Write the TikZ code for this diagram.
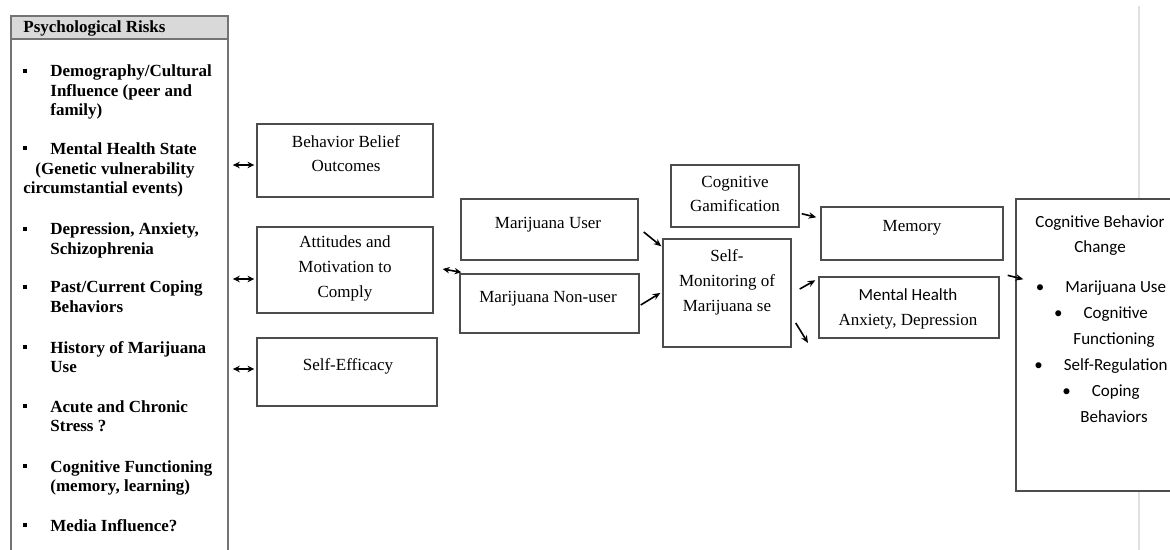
\documentclass[tikz,border=0pt]{standalone}
\usepackage{fontspec}
\setmainfont{Liberation Serif}
\newfontfamily\calibri{Carlito}
\usetikzlibrary{arrows.meta,calc,fit}

\begin{document}
\begin{tikzpicture}[x=0.5pt,y=-0.5pt,
    box/.style={draw=black!70,line width=0.7pt,inner sep=0pt},
    riskbox/.style={draw=black!55,line width=0.9pt,inner sep=0pt},
    boxtext/.style={anchor=base,align=center,inner sep=0pt,font=\fontsize{8.5}{12.4}\selectfont},
    sanstext/.style={anchor=base,align=center,inner sep=0pt,font=\calibri\fontsize{8.5}{12.9}\selectfont},
    risk/.style={anchor=base west,align=left,inner sep=0pt,font=\bfseries\fontsize{8.5}{9.75}\selectfont},
    sqbullet/.style={fill=black,inner sep=0pt,minimum size=2pt},
    arr/.style={-{Stealth[length=3.8pt,width=3.2pt]},line width=0.8pt},
    dbl/.style={{Stealth[length=3.4pt,width=3.2pt]}-{Stealth[length=3.4pt,width=3.2pt]},line width=0.8pt}]
  \useasboundingbox (0,0) rectangle (1170,550);
  \clip (0,0) rectangle (1170,550);

  % page margin
  \draw[black!12,line width=1pt] (1139,6) -- (1139,550);

  % risks (base = last line)
  \node[riskbox,fill=white,fit={(11,16) (228,580)}] (psych) {};
  \node[riskbox,fill=black!15,fit={(11,16) (228,39)}] (psych-head) {};
  \node[risk] (psych-title) at (23,33) {Psychological Risks};

  \node[sqbullet] (b1) at (25,71) {};
  \node[risk] (r1) at (50,116) {Demography/Cultural\\Influence (peer and\\family)};
  \node[sqbullet] (b2) at (25,148) {};
  \node[risk] (r2) at (23,194) {\hspace*{13.5pt}Mental Health State\\\hspace*{6pt}(Genetic vulnerability\\circumstantial events)};
  \node[sqbullet] (b3) at (25,229) {};
  \node[risk] (r3) at (50,254.5) {Depression, Anxiety,\\Schizophrenia};
  \node[sqbullet] (b4) at (25,287) {};
  \node[risk] (r4) at (50,312.5) {Past/Current Coping\\Behaviors};
  \node[sqbullet] (b5) at (25,347) {};
  \node[risk] (r5) at (50,372.5) {History of Marijuana\\Use};
  \node[sqbullet] (b6) at (25,406) {};
  \node[risk] (r6) at (50,431.5) {Acute and Chronic\\Stress ?};
  \node[sqbullet] (b7) at (25,466) {};
  \node[risk] (r7) at (50,491.5) {Cognitive Functioning\\(memory, learning)};
  \node[sqbullet] (b8) at (25,525) {};
  \node[risk] (r8) at (50,531) {Media Influence?};

  % beliefs
  \node[box,fit={(257,124) (433,197)}] (belief) {};
  \node[boxtext] (belief-t) at (346,172) {Behavior Belief\\Outcomes};
  \node[box,fit={(257,227) (433,313)}] (attitude) {};
  \node[boxtext] (attitude-t) at (345,297.5) {Attitudes and\\Motivation to\\Comply};
  \node[box,fit={(257,338) (437,406)}] (efficacy) {};
  \node[boxtext] (efficacy-t) at (348,370) {Self-Efficacy};

  % users
  \node[box,fit={(461,199) (638,260)}] (user) {};
  \node[boxtext] (user-t) at (548,229) {Marijuana User};
  \node[box,fit={(460,274) (639,333)}] (nonuser) {};
  \node[boxtext] (nonuser-t) at (548,302) {Marijuana Non-user};

  % monitoring
  \node[box,fit={(671,165) (799,227)}] (gamif) {};
  \node[boxtext] (gamif-t) at (735,212) {Cognitive\\Gamification};
  \node[box,fit={(663,239) (791,347)}] (monitor) {};
  \node[boxtext] (monitor-t) at (727,311) {Self-\\Monitoring of\\Marijuana se};

  % outcomes
  \node[box,fit={(821,207) (1003,260)}] (memory) {};
  \node[boxtext] (memory-t) at (912,232) {Memory};
  \node[box,fit={(819,277) (999,338)}] (mental) {};
  \node[boxtext] (mental-t) at (908,325) {{\calibri Mental Health}\\Anxiety, Depression};

  % change
  \node[box,fill=white,fit={(1016,199) (1184,491)}] (cbc) {};
  \node[sanstext] (cbc-t) at (1100,253) {Cognitive Behavior\\Change};
  \node[sanstext,font=\calibri\fontsize{8.5}{13}\selectfont] (cbc-list) at (1101,422)
    {\textbullet\hspace{10.5pt}Marijuana Use\\
     \textbullet\hspace{10.5pt}Cognitive\\
     \hspace*{13pt}Functioning\\
     \textbullet\hspace{10.5pt}Self-Regulation\\
     \textbullet\hspace{10.5pt}Coping\\
     \hspace*{13pt}Behaviors};

  \coordinate (loose) at (808,343);

  \draw[dbl] ($(psych.east |- belief.west)+(4,4.5)$) -- ($(belief.west)+(-2,4.5)$);
  \draw[dbl] ($(psych.east |- attitude.west)+(4,9)$) -- ($(attitude.west)+(-2,9)$);
  \draw[dbl] ($(psych.east |- efficacy.west)+(4,-3)$) -- ($(efficacy.west)+(-2,-3)$);
  \draw[dbl] ($(attitude.east)+(9,-1)$) -- ($(nonuser.north west)+(2,-1)$);
  \draw[arr] ($(user.east)+(5,2.5)$) -- ($(monitor.north west)+(-1,8)$);
  \draw[arr] ($(nonuser.east)+(1,1.5)$) -- ($(monitor.west)+(-2,0)$);
  \draw[arr] ($(gamif.south east)+(2,-14)$) -- ($(memory.north west)+(-4,11)$);
  \draw[arr] ($(monitor.east)+(8,-4)$) -- ($(mental.north west)+(-3,4)$);
  \draw[arr] ($(monitor.east)+(4,30)$) -- (loose);
  \draw[arr] ($(mental.north east)+(8,-1)$) -- ($(cbc.north west)+(8,81)$);
\end{tikzpicture}
\end{document}
